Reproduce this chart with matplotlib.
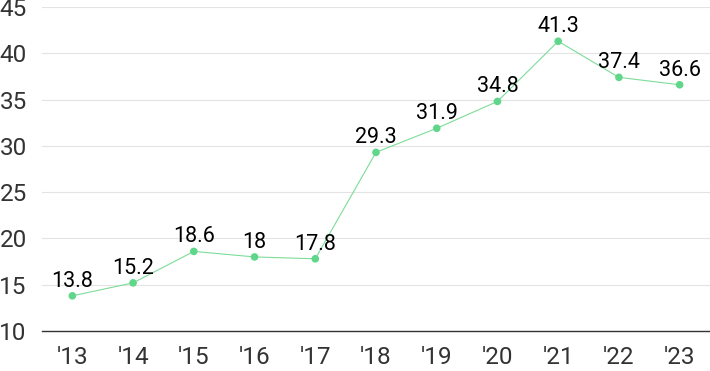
import matplotlib
matplotlib.use("Agg")
import matplotlib.pyplot as plt

years = ["'13", "'14", "'15", "'16", "'17", "'18", "'19", "'20", "'21", "'22", "'23"]
values = [13.8, 15.2, 18.6, 18, 17.8, 29.3, 31.9, 34.8, 41.3, 37.4, 36.6]
yticks = [10, 15, 20, 25, 30, 35, 40, 45]

plt.rcParams['font.family'] = ['Roboto', 'DejaVu Sans']

fig = plt.figure(figsize=(7.1, 3.71), dpi=100)
ax = fig.add_axes([42/710, 40/371, 668/710, 324/371])

x = list(range(len(years)))
ax.plot(x, values, color='#7ddc98', lw=0.8, zorder=2)
ax.scatter(x, values, s=30, color='#5fd68a', zorder=3, edgecolors='none')
for xi, v in zip(x, values):
    ax.annotate(f"{v:g}", (xi, v), xytext=(0, 3), textcoords='offset points',
                ha='center', va='bottom', fontsize=15.5, color='#000000')

ax.set_xlim(-0.5, len(years) - 0.5)
ax.set_ylim(10, 45)
ax.set_yticks(yticks)
ax.set_xticks(x)
ax.set_xticklabels(years)
ax.grid(axis='y', color='#e3e3e3', lw=0.8)
ax.set_axisbelow(True)
for s in ['top', 'right', 'left']:
    ax.spines[s].set_visible(False)
ax.spines['bottom'].set_color('#333333')
ax.spines['bottom'].set_linewidth(1)
ax.tick_params(axis='both', length=0, labelsize=17.5, colors='#333333')
ax.tick_params(axis='y', pad=11)
ax.tick_params(axis='x', pad=11)

fig.savefig('out.png', dpi=100)
